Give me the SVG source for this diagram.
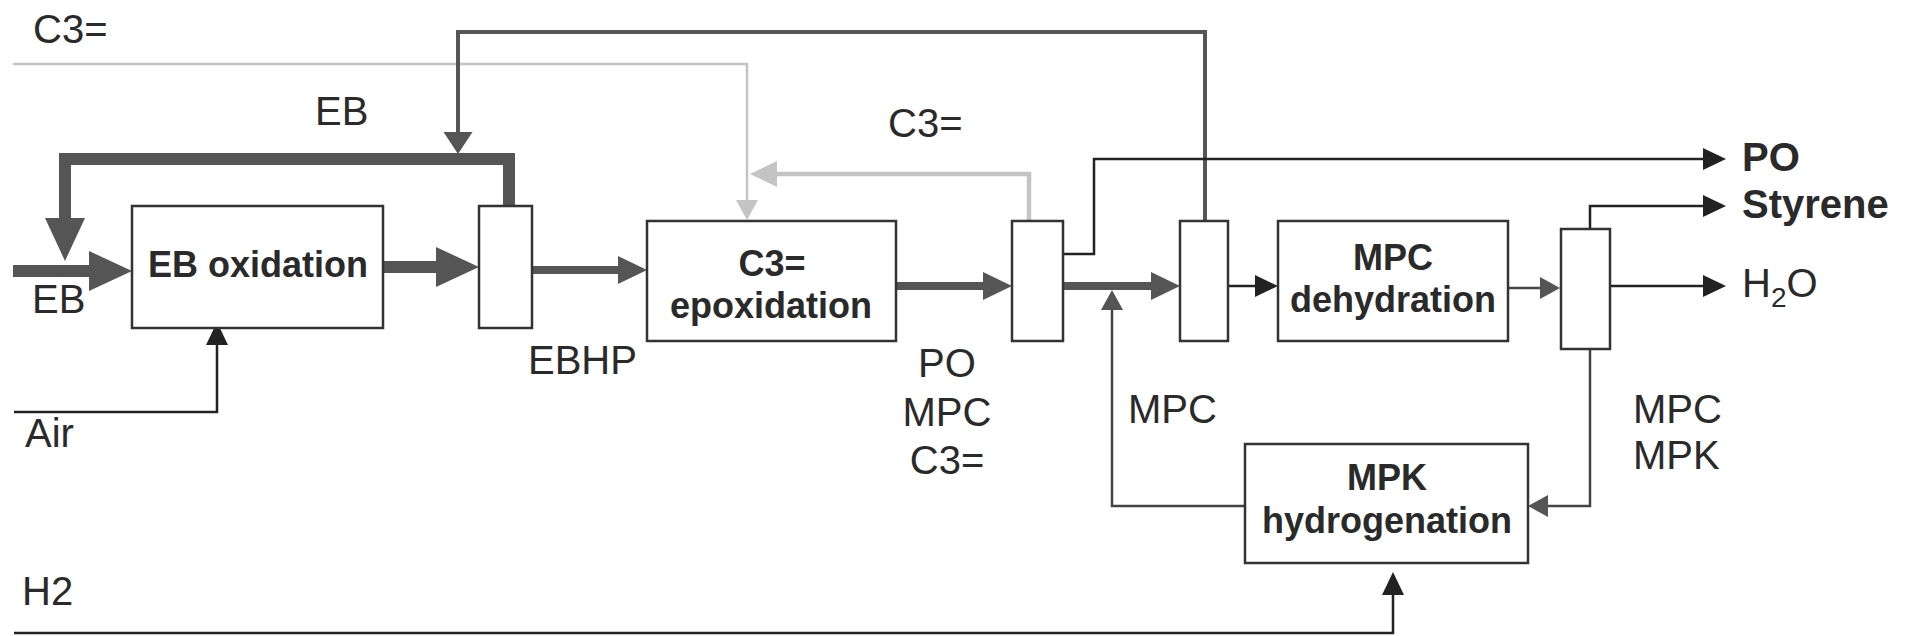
<svg xmlns="http://www.w3.org/2000/svg" width="1905" height="636" viewBox="0 0 1905 636">
<style>
.box{fill:#fff;stroke:#333;stroke-width:2.5}
.lbl{font-family:"Liberation Sans",Arial,sans-serif;font-size:40px;fill:#2a2a2a}
.bl{font-family:"Liberation Sans",Arial,sans-serif;font-size:36px;font-weight:bold;fill:#2a2a2a;text-anchor:middle}
.out{font-family:"Liberation Sans",Arial,sans-serif;font-size:40px;font-weight:bold;fill:#2a2a2a}
.thick{fill:none;stroke:#555;stroke-width:12;stroke-linejoin:miter}
.med{fill:none;stroke:#555;stroke-width:8}
.dg{fill:none;stroke:#555;stroke-width:4}
.lg{fill:none;stroke:#c4c4c4;stroke-width:2.5}
.lgm{fill:none;stroke:#c4c4c4;stroke-width:4.5}
.thin{fill:none;stroke:#222;stroke-width:2.5}
.gthin{fill:none;stroke:#444;stroke-width:2.5}
</style>
<defs>
<marker id="aBig" markerUnits="userSpaceOnUse" markerWidth="44" markerHeight="42" refX="0" refY="21" orient="auto"><path d="M0,1 L43,21 L0,41 z" fill="#555"/></marker>
<marker id="aMed" markerUnits="userSpaceOnUse" markerWidth="30" markerHeight="28" refX="0" refY="14" orient="auto"><path d="M0,0 L29,14 L0,28 z" fill="#555"/></marker>
<marker id="aGrayW" markerUnits="userSpaceOnUse" markerWidth="23" markerHeight="30" refX="0" refY="15" orient="auto"><path d="M0,0.5 L22,15 L0,29.5 z" fill="#555"/></marker>
<marker id="aGray" markerUnits="userSpaceOnUse" markerWidth="21" markerHeight="22" refX="0" refY="11" orient="auto"><path d="M0,0 L20,11 L0,22 z" fill="#555"/></marker>
<marker id="aLight" markerUnits="userSpaceOnUse" markerWidth="21" markerHeight="22" refX="0" refY="11" orient="auto"><path d="M0,0 L20,11 L0,22 z" fill="#c4c4c4"/></marker>
<marker id="aLightM" markerUnits="userSpaceOnUse" markerWidth="28" markerHeight="26" refX="0" refY="13" orient="auto"><path d="M0,0 L27,13 L0,26 z" fill="#c4c4c4"/></marker>
<marker id="aBlack" markerUnits="userSpaceOnUse" markerWidth="24" markerHeight="22" refX="0" refY="11" orient="auto"><path d="M0,0 L23,11 L0,22 z" fill="#222"/></marker>
</defs>

<g id="connectors">
<path class="lg" d="M13,64 H747 V200" marker-end="url(#aLight)"/>
<path class="dg" d="M1205,221 V32 H458 V132" marker-end="url(#aGrayW)"/>
<path class="thick" d="M509,206 V159 H65 V218" marker-end="url(#aBig)"/>
<path class="thick" d="M13,271 H89" marker-end="url(#aBig)"/>
<path class="thick" d="M383,267 H436" marker-end="url(#aBig)"/>
<path class="med" d="M532,270 H618" marker-end="url(#aMed)"/>
<path class="med" d="M896,286 H983" marker-end="url(#aMed)"/>
<path class="med" d="M1063,286 H1151" marker-end="url(#aMed)"/>
<path class="lgm" d="M1029,221 V174 H777" marker-end="url(#aLightM)"/>
<path class="thin" d="M1063,254 H1094 V159 H1703" marker-end="url(#aBlack)"/>
<path class="thin" d="M1228,286 H1255" marker-end="url(#aBlack)"/>
<path class="thin" d="M1590,229 V206 H1703" marker-end="url(#aBlack)"/>
<path class="thin" d="M1610,286 H1703" marker-end="url(#aBlack)"/>
<path class="thin" d="M14,412 H217 V345" marker-end="url(#aBlack)"/>
<path class="thin" d="M14,633 H1393 V595" marker-end="url(#aBlack)"/>
<path class="gthin" d="M1508,288 H1540" marker-end="url(#aGray)"/>
<path class="gthin" d="M1590,349 V506 H1548" marker-end="url(#aGray)"/>
<path class="gthin" d="M1245,506 H1112 V310" marker-end="url(#aGray)"/>
</g>

<g id="eb-oxidation"><rect class="box" x="132" y="206" width="251" height="122"/><text class="bl" x="258" y="277">EB oxidation</text></g>
<g id="splitter1"><rect class="box" x="479" y="206" width="53" height="122"/></g>
<g id="c3-epoxidation"><rect class="box" x="647" y="221" width="249" height="120"/><text class="bl" x="772" y="276">C3=</text><text class="bl" x="771" y="318">epoxidation</text></g>
<g id="splitter2"><rect class="box" x="1012" y="221" width="51" height="120"/></g>
<g id="splitter3"><rect class="box" x="1180" y="221" width="48" height="120"/></g>
<g id="mpc-dehydration"><rect class="box" x="1278" y="221" width="230" height="120"/><text class="bl" x="1393" y="270">MPC</text><text class="bl" x="1393" y="312">dehydration</text></g>
<g id="splitter4"><rect class="box" x="1561" y="229" width="49" height="120"/></g>
<g id="mpk-hydrogenation"><rect class="box" x="1245" y="444" width="283" height="119"/><text class="bl" x="1387" y="490">MPK</text><text class="bl" x="1387" y="533">hydrogenation</text></g>

<g id="labels">
<text class="lbl" x="33" y="43">C3=</text>
<text class="lbl" x="315" y="125">EB</text>
<text class="lbl" x="32" y="313">EB</text>
<text class="lbl" x="25" y="447">Air</text>
<text class="lbl" x="22" y="605">H2</text>
<text class="lbl" x="528" y="374">EBHP</text>
<text class="lbl" x="888" y="137">C3=</text>
<text class="lbl" x="947" y="377" text-anchor="middle">PO</text>
<text class="lbl" x="947" y="426" text-anchor="middle">MPC</text>
<text class="lbl" x="947" y="474" text-anchor="middle">C3=</text>
<text class="lbl" x="1128" y="423">MPC</text>
<text class="lbl" x="1633" y="423">MPC</text>
<text class="lbl" x="1633" y="469">MPK</text>
<text class="out" x="1742" y="171">PO</text>
<text class="out" x="1742" y="218">Styrene</text>
<text class="lbl" x="1742" y="297">H<tspan font-size="28" dy="10">2</tspan><tspan dy="-10">O</tspan></text>
</g>
</svg>
